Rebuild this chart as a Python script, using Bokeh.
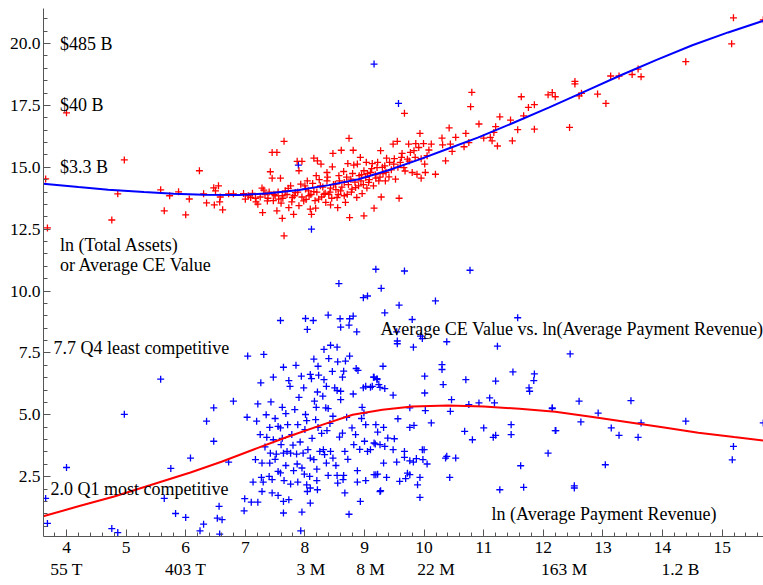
from bokeh.plotting import figure
from bokeh.models import (FixedTicker, LinearAxis, NumeralTickFormatter,
                          CustomJSTickFormatter, Label, Range1d, ColumnDataSource)
from bokeh.embed import file_html
from bokeh.resources import INLINE

# ln(Total Assets) vs ln(Average Payment Revenue)  (red crosses)
ta_x = [3.65, 3.68, 4.00, 4.76, 4.86, 4.97, 5.58, 5.64, 5.73, 5.88,
        6.00, 6.06, 6.23, 6.30, 6.35, 6.47, 6.48, 6.50, 6.55, 6.57,
        6.58, 6.62, 6.72, 6.80, 6.97, 7.00, 7.09, 7.17, 7.21, 7.28,
        7.31, 7.29, 7.37, 7.42, 7.45, 7.45, 7.53, 7.48, 7.53, 7.56,
        7.59, 7.62, 7.65, 7.65, 7.62, 7.67, 7.73, 7.76, 7.79, 7.81,
        7.84, 7.87, 7.90, 7.93, 7.95, 7.98, 8.01, 8.04, 8.07, 8.09,
        8.11, 8.15, 8.15, 8.18, 8.19, 8.21, 8.23, 8.26, 8.27, 8.32,
        8.35, 8.37, 8.37, 8.40, 8.43, 8.43, 8.46, 8.47, 8.51, 8.54,
        8.55, 8.57, 8.60, 8.61, 8.65, 8.66, 8.68, 8.71, 8.72, 8.74,
        8.75, 8.77, 8.79, 8.81, 8.82, 8.85, 8.87, 8.88, 8.91, 8.93,
        8.94, 8.96, 8.99, 8.99, 9.02, 9.03, 9.04, 9.07, 9.10, 9.13,
        9.15, 9.16, 9.19, 9.21, 9.24, 9.27, 9.28, 9.31, 9.34, 9.35,
        9.37, 9.41, 9.48, 9.49, 9.52, 9.55, 9.58, 9.60, 9.63, 9.66,
        9.67, 9.72, 9.74, 9.77, 9.80, 9.83, 9.86, 9.88, 9.91, 9.93,
        9.95, 9.99, 10.01, 10.02, 10.05, 10.12, 10.19, 10.30, 10.31, 10.36,
        10.42, 10.44, 10.47, 10.53, 10.67, 10.70, 10.78, 10.92, 10.75, 10.80,
        11.00, 11.11, 11.14, 11.17, 11.20, 11.23, 11.27, 11.45, 11.48, 11.57,
        11.63, 11.67, 11.75, 11.85, 11.85, 12.08, 12.15, 12.20, 12.44, 12.53,
        12.53, 12.60, 12.64, 12.91, 13.05, 13.13, 13.27, 13.49, 13.59, 13.64,
        14.39, 15.16, 15.19, 15.69, 7.05, 7.12, 7.18, 7.25, 7.33, 7.38,
        7.40, 7.47, 7.50, 7.55, 7.60, 7.63, 7.70, 7.72, 7.78, 7.82,
        7.88, 7.90, 7.95, 8.00, 8.02, 8.06, 8.10, 8.13, 8.17, 8.20,
        8.24, 8.28, 8.30, 8.34, 8.38, 8.42, 8.45, 8.48, 8.52, 8.56,
        8.58, 8.62, 8.66, 8.70, 8.73, 8.78, 8.80, 8.84, 8.90, 8.95,
        8.98, 9.05, 9.08, 9.12, 9.18, 9.22, 9.26, 9.30, 9.36, 9.42,
        9.45, 9.50, 9.56, 9.62, 9.68, 9.75, 9.85, 9.95, 10.08]
ta_y = [14.53, 12.55, 17.20, 12.87, 13.93, 15.30, 14.09, 13.24, 13.85, 14.01,
        13.08, 13.72, 14.86, 13.93, 13.56, 14.17, 13.48, 14.05, 14.25, 13.60,
        13.80, 13.28, 13.93, 13.93, 13.94, 13.71, 13.78, 13.75, 13.51, 14.16,
        14.08, 13.17, 13.64, 14.82, 14.56, 15.60, 15.60, 13.91, 13.24, 13.71,
        14.56, 12.94, 12.23, 16.05, 13.85, 14.05, 13.37, 14.25, 13.78, 13.10,
        13.98, 15.24, 14.86, 14.32, 15.24, 13.64, 14.12, 14.45, 13.85, 13.31,
        13.10, 15.37, 14.02, 13.35, 14.66, 15.26, 13.71, 14.25, 15.13, 13.91,
        13.58, 14.45, 14.79, 13.91, 13.48, 14.16, 15.02, 15.56, 14.32, 13.78,
        13.37, 14.66, 14.05, 15.69, 14.83, 14.39, 13.58, 13.91, 15.15, 16.17,
        12.97, 14.52, 14.12, 15.69, 15.09, 14.18, 13.78, 15.13, 14.66, 15.40,
        14.45, 13.94, 13.04, 14.86, 14.59, 15.20, 14.16, 14.39, 14.79, 15.15,
        14.25, 13.35, 14.56, 14.99, 14.45, 15.67, 13.80, 14.75, 15.06, 14.45,
        15.37, 14.61, 15.94, 15.13, 14.52, 16.05, 13.75, 15.20, 15.56, 14.99,
        17.18, 15.33, 15.94, 15.60, 14.79, 15.67, 15.96, 14.72, 15.80, 16.37,
        14.56, 15.96, 15.13, 14.79, 15.47, 15.94, 14.72, 16.18, 15.91, 15.26,
        16.59, 15.94, 15.64, 16.21, 15.83, 16.37, 17.45, 16.75, 16.00, 18.03,
        16.18, 16.21, 16.07, 16.41, 16.64, 15.86, 17.04, 16.91, 16.07, 16.52,
        17.85, 17.08, 17.42, 17.53, 16.54, 17.93, 18.02, 17.85, 16.61, 18.47,
        18.37, 17.89, 17.99, 17.96, 17.58, 18.69, 18.69, 18.75, 18.97, 18.66,
        19.27, 19.99, 21.04, 20.96, 13.85, 13.95, 13.60, 13.80, 13.90, 13.75,
        14.00, 13.65, 13.85, 14.00, 13.55, 13.75, 13.90, 14.15, 13.60, 13.85,
        14.00, 13.45, 13.80, 14.25, 13.70, 14.05, 13.90, 14.35, 13.65, 14.00,
        14.50, 13.80, 14.20, 13.95, 14.60, 14.00, 13.75, 14.30, 14.10, 13.90,
        14.45, 14.20, 13.85, 14.60, 14.30, 14.00, 14.75, 14.40, 14.25, 14.70,
        14.30, 14.75, 14.50, 14.95, 14.70, 15.20, 14.60, 15.00, 14.80, 15.20,
        14.90, 15.35, 15.00, 15.40, 14.85, 15.25, 15.40, 15.35, 15.70]

# Average CE Value vs ln(Average Payment Revenue)  (blue crosses)
ce_x = [8.57, 8.98, 9.05, 7.59, 8.01, 8.04, 8.14, 8.39, 8.59, 8.60,
        8.75, 8.81, 8.74, 8.87, 7.04, 7.31, 7.64, 7.26, 7.47, 7.73,
        7.75, 7.94, 7.98, 8.09, 8.11, 8.22, 8.23, 8.32, 8.43, 8.54,
        8.40, 8.55, 8.68, 8.75, 8.65, 8.63, 8.50, 8.54, 8.32, 8.36,
        8.21, 8.86, 8.89, 8.81, 8.98, 9.02, 9.15, 9.21, 9.10, 9.24,
        6.35, 6.47, 6.80, 6.47, 6.72, 7.03, 7.19, 7.21, 7.43, 7.62,
        7.83, 7.41, 7.55, 7.59, 7.71, 7.88, 8.01, 8.03, 8.16, 8.19,
        8.18, 8.22, 8.35, 8.39, 8.47, 8.37, 8.60, 8.63, 8.67, 8.79,
        8.82, 8.96, 8.99, 9.02, 9.00, 9.05, 9.16, 9.19, 7.36, 7.47,
        7.42, 7.52, 7.60, 7.64, 7.70, 7.76, 7.80, 7.86, 7.87, 7.97,
        8.05, 8.09, 8.15, 8.25, 8.31, 8.33, 8.43, 8.47, 7.17, 7.28,
        7.41, 7.27, 7.13, 7.30, 7.40, 7.45, 7.55, 7.59, 7.65, 7.76,
        7.81, 7.88, 7.99, 8.08, 8.03, 8.09, 8.04, 8.20, 8.21, 8.39,
        8.54, 8.55, 8.65, 8.64, 8.88, 8.88, 8.67, 9.02, 9.16, 9.26,
        7.28, 7.45, 7.55, 7.64, 7.73, 6.99, 7.10, 7.21, 6.98, 7.64,
        7.95, 8.09, 8.74, 8.93, 6.56, 6.53, 6.61, 6.30, 6.24, 6.57,
        7.93, 9.19, 9.67, 10.77, 9.28, 9.58, 10.19, 9.34, 9.80, 9.54,
        9.55, 9.55, 9.82, 9.97, 9.94, 10.38, 11.57, 11.23, 9.31, 9.16,
        9.21, 9.13, 9.26, 9.34, 9.48, 10.30, 10.30, 10.01, 10.32, 10.01,
        10.70, 11.20, 11.49, 11.76, 11.77, 11.84, 11.85, 10.46, 11.10, 11.18,
        10.92, 10.75, 9.76, 10.02, 10.44, 12.15, 9.56, 10.12, 9.32, 9.22,
        9.76, 9.83, 10.68, 11.00, 11.46, 11.46, 12.21, 10.81, 11.16, 11.20,
        9.39, 9.50, 9.18, 9.26, 9.34, 9.10, 9.48, 9.67, 9.67, 9.97,
        10.00, 9.32, 9.54, 9.76, 9.82, 9.87, 9.98, 10.05, 10.36, 10.38,
        10.53, 12.08, 11.62, 9.19, 9.22, 9.37, 9.59, 9.69, 9.72, 9.76,
        9.93, 9.89, 10.43, 9.27, 9.93, 11.27, 11.67, 12.45, 12.15, 12.60,
        13.47, 12.92, 12.63, 12.20, 13.64, 13.14, 13.27, 13.59, 14.39, 13.04,
        12.52, 12.52, 15.19, 15.17, 15.69, 3.65, 3.68, 4.00, 4.97, 4.76,
        4.86, 5.58, 5.64, 5.75, 5.83, 6.00, 6.08, 9.16, 9.57, 7.89,
        8.11, 7.35, 7.50, 7.68, 7.78, 7.92, 8.00, 8.12, 8.28, 8.42,
        8.58, 8.70, 8.85, 8.92, 7.33, 7.50, 7.95, 8.20, 8.36, 8.52,
        8.72, 7.62, 7.25, 8.60, 8.30, 7.90, 8.46, 7.85, 8.15, 8.95,
        7.68]
ce_y = [10.30, 9.73, 9.80, 8.81, 8.89, 8.45, 8.81, 9.03, 8.88, 8.54,
        8.88, 8.99, 8.62, 8.35, 7.37, 7.44, 6.92, 6.29, 6.52, 6.38,
        6.15, 6.56, 6.09, 6.63, 6.46, 6.96, 6.60, 7.64, 7.81, 7.73,
        7.27, 7.14, 7.17, 7.37, 6.76, 6.52, 6.09, 5.98, 6.42, 6.15,
        5.92, 6.87, 6.79, 5.84, 6.09, 6.15, 6.52, 6.42, 6.11, 6.22,
        4.74, 5.28, 5.55, 3.93, 3.09, 4.90, 4.74, 5.44, 5.52, 5.30,
        5.21, 4.49, 4.53, 4.47, 4.60, 4.60, 5.01, 4.76, 5.55, 5.30,
        4.80, 4.49, 5.28, 5.25, 4.94, 4.36, 5.61, 4.26, 3.52, 4.47,
        3.79, 5.30, 5.07, 4.60, 3.93, 3.52, 3.86, 4.60, 4.09, 3.99,
        3.45, 3.41, 3.79, 3.45, 3.52, 3.45, 3.77, 3.41, 3.01, 3.45,
        3.59, 3.25, 3.19, 3.52, 3.59, 3.39, 3.52, 3.25, 3.19, 3.05,
        3.05, 2.47, 2.28, 2.28, 2.51, 2.38, 2.71, 2.65, 2.34, 2.20,
        2.74, 2.28, 2.60, 2.51, 2.17, 2.04, 1.90, 2.34, 1.97, 2.55,
        2.55, 2.24, 2.55, 2.38, 2.74, 2.28, 1.84, 2.34, 2.58, 1.90,
        1.90, 1.84, 1.74, 1.50, 1.57, 1.61, 1.47, 1.47, 1.12, 1.03,
        1.07, 1.43, 0.98, 1.50, 1.30, 0.82, 0.76, 0.58, 0.31, 0.18,
        0.31, 10.88, 10.81, 10.84, 10.11, 9.43, 9.60, 9.12, 8.85, 8.35,
        7.98, 7.87, 7.73, 8.08, 8.18, 7.95, 8.92, 7.77, 6.96, 6.52,
        6.46, 6.15, 6.11, 6.06, 5.79, 7.03, 6.83, 6.56, 6.22, 5.88,
        6.42, 6.36, 6.73, 6.09, 5.95, 6.38, 6.65, 5.61, 5.68, 5.48,
        5.48, 5.41, 5.28, 5.17, 5.14, 5.28, 4.84, 4.67, 4.49, 4.30,
        4.49, 4.57, 4.33, 4.47, 4.60, 4.20, 4.36, 3.99, 4.09, 4.17,
        4.06, 4.03, 3.82, 3.79, 3.72, 3.59, 3.59, 3.52, 3.28, 3.59,
        3.59, 3.05, 3.09, 3.14, 3.09, 3.23, 3.19, 3.01, 3.25, 3.32,
        3.25, 3.45, 2.94, 2.58, 2.60, 2.47, 2.31, 2.42, 2.64, 2.58,
        2.47, 2.17, 2.47, 1.93, 1.66, 1.97, 2.07, 7.46, 5.25, 5.55,
        5.57, 5.07, 4.71, 4.36, 4.67, 4.47, 4.17, 4.09, 4.74, 2.98,
        2.13, 2.04, 3.72, 3.18, 4.67, 1.62, 0.61, 2.87, 5.02, 0.40,
        0.24, 6.44, 1.62, 2.83, 1.01, 0.85, 3.25, 19.17, 17.58, 15.09,
        12.50, 5.00, 4.85, 5.05, 4.20, 3.90, 4.40, 4.05, 4.25, 4.65,
        4.10, 4.90, 4.20, 3.60, 3.70, 3.20, 2.85, 2.80, 3.05, 2.95,
        3.20, 4.05, 4.20, 5.95, 5.75, 5.70, 6.75, 7.00, 7.25, 4.85,
        2.95]

# fitted curves
ta_fit_x = [3.61, 4.2, 4.7, 5.3, 5.8, 6.3, 6.9, 7.4, 7.9, 8.4, 8.9, 9.4,
            9.9, 10.4, 10.9, 11.5, 12.1, 12.7, 13.3, 13.9, 14.5, 15.1, 15.7]
ta_fit_y = [14.34, 14.20, 14.09, 14.00, 13.93, 13.89, 13.88, 13.95, 14.08, 14.28,
            14.52, 14.88, 15.30, 15.75, 16.20, 16.80, 17.42, 18.07, 18.72, 19.34,
            19.93, 20.45, 20.93]
ce_fit_x = [3.61, 4.2, 4.8, 5.4, 6.08, 6.6, 7.2, 7.7, 8.3, 8.8, 9.3, 9.8,
            10.4, 11.0, 11.6, 12.2, 12.8, 13.4, 14.0, 14.6, 15.2, 15.7]
ce_fit_y = [0.90, 1.30, 1.70, 2.15, 2.67, 3.10, 3.65, 4.10, 4.60, 5.00, 5.20, 5.33,
            5.37, 5.33, 5.24, 5.12, 4.92, 4.71, 4.50, 4.27, 4.10, 3.96]

x_ticks = [4, 5, 6, 7, 8, 9, 10, 11, 12, 13, 14, 15]
y_ticks = [2.5, 5.0, 7.5, 10.0, 12.5, 15.0, 17.5, 20.0]
sec_tick_pos = [4.0, 6.0, 8.1, 9.1, 10.2, 12.35, 14.3]
sec_tick_labels = ["55 T", "403 T", "3 M", "8 M", "22 M", "163 M", "1.2 B"]

x_minor = [round(3.8 + 0.2 * i, 2) for i in range(0, 60)]
x_minor = [t for t in x_minor if abs(t - round(t)) > 1e-6]
y_minor = [round(0.5 * i, 2) for i in range(1, 43)]
y_minor = [t for t in y_minor if abs(t / 2.5 - round(t / 2.5)) > 1e-6]

FONT = "Liberation Serif"
AX = "#555555"

p = figure(width=763, height=581, x_range=Range1d(3.614, 15.694), y_range=Range1d(0.081, 21.417),
           output_backend="svg", toolbar_location=None, x_axis_type=None, y_axis_type=None,
           min_border_left=43, min_border_right=0, min_border_top=8, min_border_bottom=0)
p.outline_line_color = None
p.background_fill_color = "white"
p.border_fill_color = "white"


def style(ax, standoff):
    ax.axis_line_color = AX
    ax.major_tick_line_color = AX
    ax.minor_tick_line_color = AX
    ax.major_tick_in = 7
    ax.major_tick_out = 0
    ax.minor_tick_in = 4
    ax.minor_tick_out = 0
    ax.major_label_text_font = FONT
    ax.major_label_text_font_size = "17.5px"
    ax.major_label_text_color = "black"
    ax.major_label_standoff = standoff


xaxis = LinearAxis(ticker=FixedTicker(ticks=x_ticks, minor_ticks=x_minor))
style(xaxis, 5)
p.add_layout(xaxis, "below")

xaxis2 = LinearAxis(ticker=FixedTicker(ticks=sec_tick_pos, minor_ticks=[]),
                    formatter=CustomJSTickFormatter(
                        args=dict(pos=sec_tick_pos, labels=sec_tick_labels),
                        code="""
let best = 0; let d = 1e9;
for (let i = 0; i < pos.length; i++) {
  const e = Math.abs(pos[i] - tick);
  if (e < d) { d = e; best = i; }
}
return labels[best];
"""))
style(xaxis2, 3)
xaxis2.axis_line_color = None
xaxis2.major_tick_line_color = None
xaxis2.minor_tick_line_color = None
p.add_layout(xaxis2, "below")

yaxis = LinearAxis(ticker=FixedTicker(ticks=y_ticks, minor_ticks=y_minor),
                   formatter=NumeralTickFormatter(format="0.0"))
style(yaxis, 3)
p.add_layout(yaxis, "left")

ce_src = ColumnDataSource(dict(x=ce_x, y=ce_y))
ta_src = ColumnDataSource(dict(x=ta_x, y=ta_y))
p.scatter("x", "y", source=ce_src, marker="cross", size=7, line_width=1.3, line_color="#0000ff")
p.scatter("x", "y", source=ta_src, marker="cross", size=7, line_width=1.3, line_color="#ff0000")
p.line(ta_fit_x, ta_fit_y, line_color="#0000ff", line_width=2)
p.line(ce_fit_x, ce_fit_y, line_color="#ff0000", line_width=2)

notes = [
    (3.89, 20.0, "$485 B"),
    (3.89, 17.5, "$40 B"),
    (3.89, 15.0, "$3.3 B"),
    (3.89, 11.86, "ln (Total Assets)"),
    (3.89, 11.05, "or Average CE Value"),
    (3.78, 7.7, "7.7 Q4 least competitive"),
    (3.73, 2.0, "2.0 Q1 most competitive"),
    (9.27, 8.47, "Average CE Value vs. ln(Average Payment Revenue)"),
    (11.13, 0.98, "ln (Average Payment Revenue)"),
]
for nx, ny, nt in notes:
    p.add_layout(Label(x=nx, y=ny, text=nt, text_font=FONT, text_font_size="18px",
                       text_color="black", text_baseline="middle", text_align="left"))

open("out.html", "w").write(file_html(p, INLINE))
